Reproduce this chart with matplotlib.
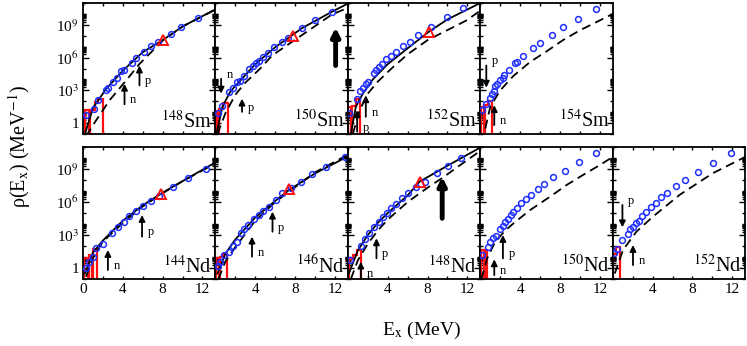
"""Level densities of Sm and Nd isotopes: data, model curves, discrete levels."""

import matplotlib
matplotlib.use('Agg')
import matplotlib.pyplot as plt
from matplotlib.ticker import NullFormatter
import numpy as np

plt.rcParams.update({
    'font.family': 'serif',
    'font.serif': ['Liberation Serif', 'DejaVu Serif'],
    'mathtext.fontset': 'stix',
    'font.size': 10,
})

# ---------------------------------------------------------------
# data: Ex in MeV, rho as log10(rho / MeV^-1)
# ---------------------------------------------------------------
sm148_ex = [0.27, 1.07, 1.5, 2.27, 2.5, 3.0, 3.4, 3.83, 4.07, 4.93, 5.33, 6.17, 6.83, 7.5, 8.83, 9.83, 11.5]
sm148_lr = [0.73, 1.33, 2.09, 3.06, 3.24, 3.76, 4.15, 4.73, 4.82, 5.52, 5.94, 6.55, 7.03, 7.39, 8.15, 8.82, 9.6]
sm150_ex = [0.23, 0.67, 1.4, 1.73, 2.13, 2.47, 2.9, 3.33, 3.73, 4.07, 4.33, 4.8, 5.23, 5.9, 6.67, 7.3, 8.73, 10.0, 11.67]
sm150_lr = [0.88, 1.55, 2.85, 3.24, 3.76, 3.85, 4.3, 4.97, 5.27, 5.48, 5.67, 6.03, 6.39, 7.0, 7.45, 7.8, 8.7, 9.42, 10.2]
sm152_ex = [0.13, 0.87, 1.2, 1.47, 1.8, 2.03, 2.6, 2.87, 3.13, 3.47, 3.87, 4.37, 4.87, 5.53, 6.2, 7.03, 8.37, 9.93, 11.53]
sm152_lr = [0.94, 2.24, 2.94, 3.24, 3.55, 3.76, 4.58, 4.88, 5.18, 5.42, 5.88, 6.18, 6.48, 7.09, 7.39, 8.09, 8.82, 9.73, 10.58]
sm154_ex = [0.17, 0.6, 0.93, 1.17, 1.33, 1.5, 1.67, 2.0, 2.27, 2.4, 2.83, 3.5, 3.73, 4.27, 5.27, 6.0, 7.17, 8.33, 9.77, 11.6]
sm154_lr = [1.18, 1.73, 2.33, 2.7, 2.94, 3.36, 3.55, 3.91, 4.15, 4.36, 4.82, 5.48, 5.58, 6.18, 6.85, 7.3, 8.09, 8.82, 9.58, 10.45]
nd144_ex = [0.27, 0.6, 1.0, 1.33, 2.0, 2.93, 3.5, 4.07, 4.67, 5.33, 6.0, 6.83, 7.67, 9.0, 10.5, 12.33]
nd144_lr = [-0.03, 0.58, 1.03, 1.79, 2.18, 3.15, 3.7, 4.21, 4.73, 5.21, 5.64, 6.12, 6.55, 7.39, 8.15, 8.97]
nd146_ex = [0.23, 0.47, 0.9, 1.4, 1.73, 2.13, 2.57, 2.9, 3.23, 3.9, 4.33, 4.8, 5.4, 6.07, 6.73, 7.57, 8.57, 9.73, 11.07, 13.0]
nd146_lr = [0.18, 0.58, 1.2, 1.48, 2.0, 2.39, 3.15, 3.52, 3.91, 4.42, 4.82, 5.21, 5.58, 6.18, 6.79, 7.24, 7.85, 8.55, 9.21, 10.06]
nd148_ex = [0.2, 1.27, 1.7, 2.13, 2.6, 3.13, 3.53, 3.93, 4.37, 4.87, 5.47, 6.03, 6.87, 7.7, 8.93, 10.03, 11.37]
nd148_lr = [0.73, 2.0, 2.61, 3.21, 3.7, 4.21, 4.61, 5.03, 5.42, 5.82, 6.33, 6.79, 7.39, 7.85, 8.61, 9.3, 9.97]
nd150_ex = [0.17, 0.73, 1.0, 1.27, 1.6, 1.93, 2.27, 2.5, 2.73, 3.07, 3.33, 3.7, 4.07, 4.6, 5.07, 5.83, 6.4, 7.27, 8.5, 9.93, 11.6]
nd150_lr = [1.18, 1.94, 2.39, 2.7, 2.91, 3.52, 3.82, 4.21, 4.42, 4.82, 5.12, 5.5, 5.88, 6.24, 6.64, 7.15, 7.64, 8.24, 8.85, 9.67, 10.48]
nd152_ex = [0.1, 0.4, 0.97, 1.53, 1.77, 2.03, 2.37, 2.63, 2.97, 3.37, 3.87, 4.3, 4.87, 5.43, 6.37, 7.3, 8.53, 10.03, 11.87]
nd152_lr = [1.33, 1.7, 2.55, 3.09, 3.52, 3.7, 4.06, 4.3, 4.73, 5.12, 5.58, 5.88, 6.42, 6.79, 7.45, 8.0, 8.76, 9.58, 10.48]

# rho at the neutron separation energy (triangles)
sm148_sn = (8.0, 7.6)
sm150_sn = (7.83, 8.0)
sm152_sn = (8.13, 8.39)
nd144_sn = (7.83, 6.73)
nd146_sn = (7.4, 7.15)
nd148_sn = (7.2, 7.85)

# solid model curves (x, log10 rho)
sm148_sol_x = [0.2, 1.0, 2.3, 4.0, 6.0, 8.0, 10.0, 13.3]
sm148_sol_y = [-1.0, 1.4, 3.1, 4.8, 6.5, 7.6, 8.85, 10.42]
sm150_sol_x = [0.1, 0.7, 1.5, 2.5, 4.0, 6.0, 8.7, 11.7, 13.3]
sm150_sol_y = [-1.0, 1.5, 2.9, 3.9, 5.4, 6.95, 8.7, 10.2, 10.95]
sm152_sol_x = [0.3, 0.8, 1.5, 2.5, 4.0, 6.0, 8.1, 10.0, 13.3]
sm152_sol_y = [-1.0, 1.5, 2.7, 4.0, 5.4, 6.85, 8.35, 9.5, 11.0]
nd144_sol_x = [0.2, 1.0, 2.0, 4.0, 6.0, 8.0, 10.0, 13.3]
nd144_sol_y = [-0.5, 1.4, 2.5, 4.3, 5.7, 6.85, 7.9, 9.6]
nd146_sol_x = [0.2, 1.0, 2.0, 3.0, 4.0, 6.0, 7.4, 10.0, 13.3]
nd146_sol_y = [-0.5, 1.3, 2.6, 3.6, 4.6, 6.1, 7.1, 8.6, 10.15]
nd148_sol_x = [0.1, 1.0, 2.0, 3.0, 4.0, 6.0, 7.2, 10.0, 13.3]
nd148_sol_y = [-0.5, 1.6, 3.0, 4.1, 5.0, 6.6, 7.85, 9.3, 10.95]

# dashed model curves (x, log10 rho)
sm148_dash_x = [0.3, 1.33, 2.67, 4.33, 5.67, 8.0, 10.0, 13.3]
sm148_dash_y = [-1.2, 0.27, 2.09, 3.9, 5.42, 7.55, 8.85, 10.4]
sm150_dash_x = [0.2, 1.0, 2.0, 3.0, 4.5, 5.7, 9.07, 11.73, 13.3]
sm150_dash_y = [-1.0, 0.9, 2.6, 3.7, 5.0, 6.2, 8.3, 9.97, 10.55]
sm152_dash_x = [0.5, 1.2, 2.0, 3.0, 4.5, 6.0, 8.0, 9.2, 11.9, 13.3]
sm152_dash_y = [-1.0, 1.2, 2.7, 3.8, 5.1, 6.3, 7.6, 8.15, 9.4, 10.3]
sm154_dash_x = [0.5, 1.0, 2.0, 3.3, 5.0, 6.7, 8.3, 10.0, 13.3]
sm154_dash_y = [-0.5, 1.5, 3.0, 4.3, 5.6, 6.6, 7.6, 8.5, 10.0]
nd144_dash_x = [0.3, 1.0, 2.0, 4.0, 6.0, 8.0, 10.0, 13.3]
nd144_dash_y = [-0.8, 0.9, 2.4, 4.1, 5.6, 6.8, 7.9, 9.5]
nd146_dash_x = [0.3, 1.0, 2.0, 3.0, 4.0, 6.0, 8.0, 10.0, 13.3]
nd146_dash_y = [-1.0, 0.6, 1.9, 3.1, 4.3, 6.0, 7.35, 8.7, 10.3]
nd148_dash_x = [0.3, 1.0, 2.0, 3.0, 4.0, 6.0, 8.0, 9.5, 11.5, 13.3]
nd148_dash_y = [-1.0, 0.7, 2.2, 3.4, 4.4, 6.0, 7.3, 8.2, 9.5, 10.65]
nd150_dash_x = [0.1, 0.7, 1.5, 2.5, 3.33, 5.0, 7.0, 8.67, 10.3, 12.0, 13.3]
nd150_dash_y = [-1.0, 0.9, 2.4, 3.4, 4.06, 5.27, 6.48, 7.55, 8.45, 9.36, 10.1]
nd152_dash_x = [0.2, 1.03, 2.37, 4.03, 6.7, 10.03, 13.3]
nd152_dash_y = [-0.5, 1.64, 3.3, 4.67, 6.64, 8.61, 10.1]

# discrete levels histogram (bin edges, log10 rho; -3 = empty bin)
sm148_hist_e = [0.25, 0.62, 0.68, 1.17, 1.5, 2.0]
sm148_hist_v = [1.24, -3, 1.24, 1.9, 2.24]
sm150_hist_e = [0.1, 0.3, 0.4, 0.8, 1.3]
sm150_hist_v = [1.1, -3, 1.3, 1.8]
sm152_hist_e = [0.05, 0.35, 0.45, 0.8, 1.2]
sm152_hist_v = [1.5, -3, 1.6, 2.2]
sm154_hist_e = [0.1, 0.4, 0.5, 0.8, 1.2]
sm154_hist_v = [1.5, -3, 1.64, 2.0]
nd144_hist_e = [0.1, 0.5, 0.6, 0.95, 1.05, 1.4]
nd144_hist_v = [0.9, -3, 1.2, -3, 1.7]
nd146_hist_e = [0.1, 0.35, 0.45, 0.8, 1.2]
nd146_hist_v = [0.9, -3, 1.0, 1.3]
nd148_hist_e = [0.1, 0.5, 0.9, 1.3]
nd148_hist_v = [0.8, 1.2, 1.6]
nd150_hist_e = [0.1, 0.4, 0.5, 0.7]
nd150_hist_v = [1.6, -3, 1.6]
nd152_hist_e = [0.0, 0.35, 0.7]
nd152_hist_v = [1.3, 1.9]

# separation-energy arrows: (Ex, log10 tail, log10 tip, label)
sm148_arrows = [(4.17, 1.73, 3.6, 'n'), (5.67, 3.45, 5.27, 'p')]
sm150_arrows = [(0.57, 4.06, 2.7, 'n'), (2.67, 1.03, 2.24, 'p')]
sm152_arrows = [(0.93, -0.79, 1.18, 'p'), (1.8, 0.58, 2.55, 'n')]
sm154_arrows = [(0.6, 5.27, 3.24, 'p'), (1.4, -0.18, 1.64, 'n')]
nd144_arrows = [(2.5, -0.18, 1.64, 'n'), (5.93, 2.85, 4.82, 'p')]
nd146_arrows = [(3.67, 1.03, 2.85, 'n'), (5.73, 3.3, 5.12, 'p')]
nd148_arrows = [(2.87, 0.88, 2.7, 'p'), (1.3, -0.95, 0.58, 'n')]
nd150_arrows = [(2.27, 0.88, 3.0, 'p'), (1.4, -0.64, 0.79, 'n')]
nd152_arrows = [(0.97, 5.73, 3.7, 'p'), (2.03, 0.27, 2.09, 'n')]

# big arrows
sm150_big = (12.07, 5.27, 8.76)
nd148_big = (9.47, 4.52, 8.3)

# panel layout: (row, col, mass, element, ...)
PANELS = [
    (0, 0, '148', 'Sm', sm148_ex, sm148_lr, sm148_sn, (sm148_sol_x, sm148_sol_y), (sm148_dash_x, sm148_dash_y), (sm148_hist_e, sm148_hist_v), sm148_arrows, None),
    (0, 1, '150', 'Sm', sm150_ex, sm150_lr, sm150_sn, (sm150_sol_x, sm150_sol_y), (sm150_dash_x, sm150_dash_y), (sm150_hist_e, sm150_hist_v), sm150_arrows, sm150_big),
    (0, 2, '152', 'Sm', sm152_ex, sm152_lr, sm152_sn, (sm152_sol_x, sm152_sol_y), (sm152_dash_x, sm152_dash_y), (sm152_hist_e, sm152_hist_v), sm152_arrows, None),
    (0, 3, '154', 'Sm', sm154_ex, sm154_lr, None, None, (sm154_dash_x, sm154_dash_y), (sm154_hist_e, sm154_hist_v), sm154_arrows, None),
    (1, 0, '144', 'Nd', nd144_ex, nd144_lr, nd144_sn, (nd144_sol_x, nd144_sol_y), (nd144_dash_x, nd144_dash_y), (nd144_hist_e, nd144_hist_v), nd144_arrows, None),
    (1, 1, '146', 'Nd', nd146_ex, nd146_lr, nd146_sn, (nd146_sol_x, nd146_sol_y), (nd146_dash_x, nd146_dash_y), (nd146_hist_e, nd146_hist_v), nd146_arrows, None),
    (1, 2, '148', 'Nd', nd148_ex, nd148_lr, nd148_sn, (nd148_sol_x, nd148_sol_y), (nd148_dash_x, nd148_dash_y), (nd148_hist_e, nd148_hist_v), nd148_arrows, nd148_big),
    (1, 3, '150', 'Nd', nd150_ex, nd150_lr, None, None, (nd150_dash_x, nd150_dash_y), (nd150_hist_e, nd150_hist_v), nd150_arrows, None),
    (1, 4, '152', 'Nd', nd152_ex, nd152_lr, None, None, (nd152_dash_x, nd152_dash_y), (nd152_hist_e, nd152_hist_v), nd152_arrows, None),
]

BLUE = '#1f2fff'
RED = '#ff1010'

fig = plt.figure(figsize=(7.47, 3.46), dpi=100)

left, width = 0.1111, 0.1773
rows = {0: (0.6127, 0.3786), 1: (0.1936, 0.3815)}

# y minor ticks: every decade, plus the clustered sub-decade ticks
ymin_ticks = [10.0**k for k in range(-1, 12) if k % 3 != 0]
ymin_ticks += [m * 10.0**k for k in range(0, 12, 3) for m in range(2, 10)]

for row, col, mass, elem, ex, lr, sn, sol, dash, hist, arrows, big in PANELS:
    bottom, height = rows[row]
    ax = fig.add_axes([left + col * width, bottom, width, height])
    ax.set_yscale('log')
    ax.set_xlim(0, 13.3)
    ax.set_ylim(1e-1, 1e11)

    # discrete levels
    he, hv = hist
    ax.stairs(10.0**np.array(hv), he, baseline=1e-3, color=RED, lw=1.6, zorder=2)

    if dash is not None:
        ax.plot(dash[0], 10.0**np.array(dash[1]), color='k', ls=(0, (5, 3)), lw=1.3, zorder=3)
    if sol is not None:
        ax.plot(sol[0], 10.0**np.array(sol[1]), color='k', lw=1.3, zorder=3)

    ax.plot(ex, 10.0**np.array(lr), ls='none', marker='o', ms=4.2, mfc='none',
            mec=BLUE, mew=1.1, zorder=4)
    if sn is not None:
        ax.plot(sn[0], 10.0**sn[1], ls='none', marker='^', ms=7, mfc='none',
                mec=RED, mew=1.4, zorder=5)

    for x, tail, tip, lab in arrows:
        ax.annotate('', xy=(x, 10.0**tip), xytext=(x, 10.0**tail),
                    arrowprops=dict(arrowstyle='-|>', color='k', lw=1.3,
                                    mutation_scale=9, shrinkA=0, shrinkB=0))
        ax.annotate(lab, xy=(x, 10.0**tail), xytext=(4, 3), textcoords='offset points',
                    fontsize=9, ha='left', va='center')
    if big is not None:
        x, tail, tip = big
        ax.annotate('', xy=(x, 10.0**tip), xytext=(x, 10.0**tail),
                    arrowprops=dict(arrowstyle='-|>', color='k', lw=3.5,
                                    mutation_scale=12, shrinkA=0, shrinkB=0))

    ax.text(0.975, 0.05, r'$^{%s}$' % mass + elem, transform=ax.transAxes,
            ha='right', va='baseline', fontsize=14.5)

    # ticks
    ax.set_xticks([0, 4, 8, 12])
    ax.set_xticks([2, 6, 10], minor=True)
    ax.set_yticks([1, 1e3, 1e6, 1e9])
    ax.set_yticks(ymin_ticks, minor=True)
    ax.yaxis.set_minor_formatter(NullFormatter())
    ax.xaxis.set_minor_formatter(NullFormatter())
    ax.tick_params(which='both', direction='in', top=True, right=True, width=1.0)
    ax.tick_params(which='major', length=4, labelsize=11, pad=3)
    ax.tick_params(which='minor', length=2.5)
    ax.tick_params(axis='x', which='major', length=2.5)
    for s in ax.spines.values():
        s.set_linewidth(1.3)

    if col == 0:
        ax.set_yticklabels(['1', r'10$^{3}$', r'10$^{6}$', r'10$^{9}$'])
    else:
        ax.set_yticklabels([])
    if row == 1:
        ax.set_xticklabels(['0' if col == 0 else '', '4', '8', '12'])
    else:
        ax.set_xticklabels([])

fig.text(0.026, 0.575, 'ρ(E$_{\\mathrm{x}}$) (MeV$^{-1}$)', rotation=90,
         ha='center', va='center', fontsize=14.5)
fig.text(0.565, 0.046, 'E$_{\\mathrm{x}}$ (MeV)', ha='center', va='center', fontsize=14)

fig.savefig('out.png', dpi=100)
plt.close()
